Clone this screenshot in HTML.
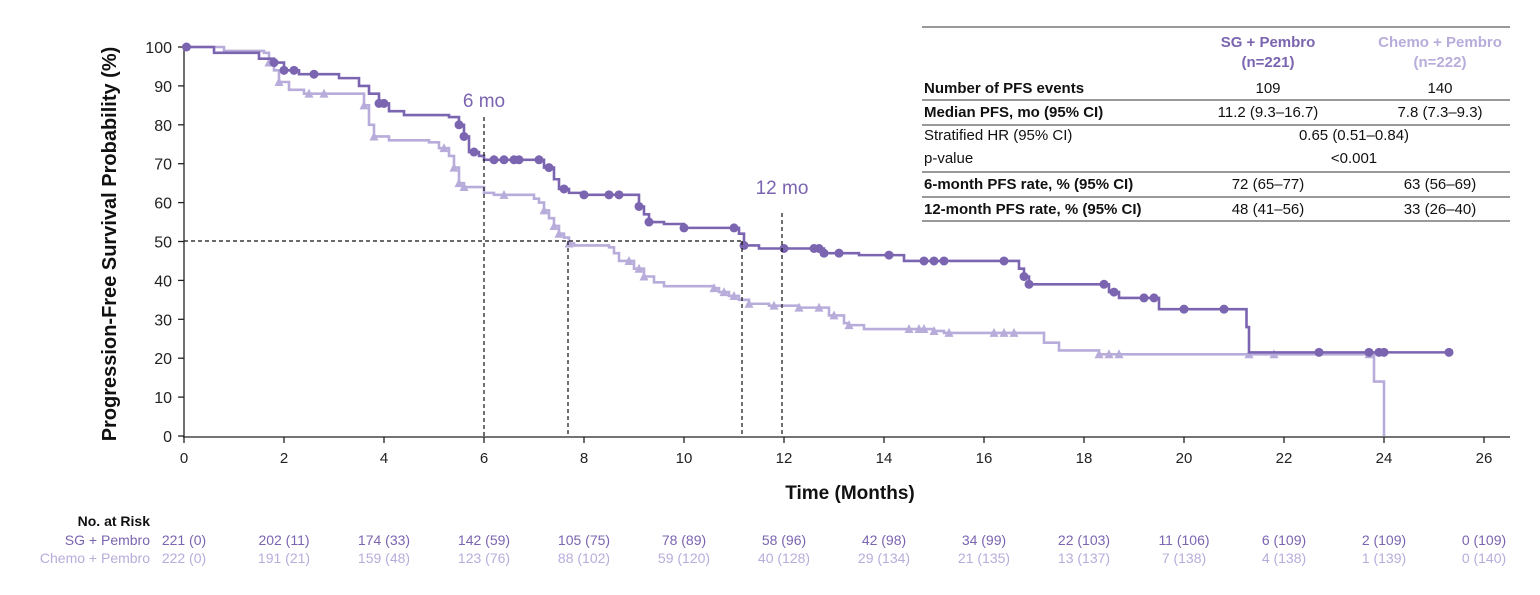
<!DOCTYPE html>
<html><head><meta charset="utf-8"><style>
html,body{margin:0;padding:0;background:#fff;}
svg{display:block;font-family:"Liberation Sans",sans-serif;}
</style></head><body>
<svg id="s" width="1540" height="595" xmlns="http://www.w3.org/2000/svg">
<g id="axes" stroke="#222" stroke-width="1.3" fill="none">
<line x1="184" y1="44" x2="184" y2="437"/>
<line x1="183" y1="437" x2="1510" y2="437"/>
</g>
<g id="ticks"></g>
<g id="curves"></g>
<text x="116" y="244" transform="rotate(-90 116 244)" text-anchor="middle" font-size="20" font-weight="bold" fill="#111">Progression-Free Survival Probability (%)</text>
<text x="850" y="499" text-anchor="middle" font-size="19" font-weight="bold" fill="#111">Time (Months)</text>
<g stroke="#111" stroke-width="1.2" stroke-dasharray="4,3" fill="none">
<line x1="184" y1="241" x2="742" y2="241"/>
<line x1="484" y1="117" x2="484" y2="437"/>
<line x1="568" y1="241" x2="568" y2="437"/>
<line x1="742" y1="241" x2="742" y2="437"/>
<line x1="782" y1="213" x2="782" y2="437"/>
</g>
<text x="484" y="107" text-anchor="middle" font-size="19" fill="#7b64b0">6 mo</text>
<text x="782" y="194" text-anchor="middle" font-size="19" fill="#7b64b0">12 mo</text>
<g font-size="15" fill="#111">
<line x1="922" y1="27" x2="1510" y2="27" stroke="#333" stroke-width="1"/>
<line x1="922" y1="100" x2="1510" y2="100" stroke="#333" stroke-width="1"/>
<line x1="922" y1="125" x2="1510" y2="125" stroke="#333" stroke-width="1"/>
<line x1="922" y1="172" x2="1510" y2="172" stroke="#333" stroke-width="1"/>
<line x1="922" y1="197" x2="1510" y2="197" stroke="#333" stroke-width="1"/>
<line x1="922" y1="221" x2="1510" y2="221" stroke="#333" stroke-width="1"/>
<text x="1268" y="47" text-anchor="middle" font-weight="bold" fill="#7b64b0">SG + Pembro</text>
<text x="1268" y="67" text-anchor="middle" font-weight="bold" fill="#7b64b0">(n=221)</text>
<text x="1440" y="47" text-anchor="middle" font-weight="bold" fill="#b8acdb">Chemo + Pembro</text>
<text x="1440" y="67" text-anchor="middle" font-weight="bold" fill="#b8acdb">(n=222)</text>
<text x="924" y="93" font-weight="bold">Number of PFS events</text>
<text x="1268" y="93" text-anchor="middle">109</text>
<text x="1440" y="93" text-anchor="middle">140</text>
<text x="924" y="117" font-weight="bold">Median PFS, mo (95% CI)</text>
<text x="1268" y="117" text-anchor="middle">11.2 (9.3–16.7)</text>
<text x="1440" y="117" text-anchor="middle">7.8 (7.3–9.3)</text>
<text x="924" y="140">Stratified HR (95% CI)</text>
<text x="1354" y="140" text-anchor="middle">0.65 (0.51–0.84)</text>
<text x="924" y="163">p-value</text>
<text x="1354" y="163" text-anchor="middle">&lt;0.001</text>
<text x="924" y="189" font-weight="bold">6-month PFS rate, % (95% CI)</text>
<text x="1268" y="189" text-anchor="middle">72 (65–77)</text>
<text x="1440" y="189" text-anchor="middle">63 (56–69)</text>
<text x="924" y="214" font-weight="bold">12-month PFS rate, % (95% CI)</text>
<text x="1268" y="214" text-anchor="middle">48 (41–56)</text>
<text x="1440" y="214" text-anchor="middle">33 (26–40)</text>
</g>
<g font-size="14">
<text x="150" y="526" text-anchor="end" font-weight="bold" fill="#111">No. at Risk</text>
<text x="150" y="545" text-anchor="end" fill="#7b64b0">SG + Pembro</text>
<text x="150" y="563" text-anchor="end" fill="#b8acdb">Chemo + Pembro</text>
<g id="risk"></g>
</g>
</svg>
<script>
var NS="http://www.w3.org/2000/svg";
function X(m){return 184+m*50;}
function Y(v){return 436-v*3.89;}
function el(p,t,a,txt){var e=document.createElementNS(NS,t);for(var k in a)e.setAttribute(k,a[k]);if(txt!==undefined)e.textContent=txt;p.appendChild(e);return e;}
var tk=document.getElementById('ticks');
for(var v=0;v<=100;v+=10){el(tk,'line',{x1:178,x2:184,y1:Y(v),y2:Y(v),stroke:'#222','stroke-width':1.3});
el(tk,'text',{x:172,y:Y(v)+6,'text-anchor':'end','font-size':16,fill:'#222'},v);}
for(var m=0;m<=26;m+=2){el(tk,'line',{x1:X(m),x2:X(m),y1:437,y2:443,stroke:'#222','stroke-width':1.3});
el(tk,'text',{x:X(m),y:463,'text-anchor':'middle','font-size':15,fill:'#222'},m);}
var sg=[[0,100],[0.6,98.5],[1.4,98.5],[1.5,97],[1.8,96],[2.0,94],[2.3,93],[2.9,93],[3.1,92],[3.5,90],[3.7,88],[3.9,85.5],[4.1,83.5],[4.4,82.5],[5.3,82],[5.5,80],[5.6,77],[5.7,73],[5.9,72],[6.0,71],[7.0,71],[7.2,69],[7.4,66],[7.5,63.5],[7.7,62.5],[8.0,62],[8.9,62],[9.1,59],[9.2,57],[9.3,55],[9.6,54.5],[10.0,53.5],[10.9,53.5],[11.1,52],[11.2,49],[11.5,48.2],[12.5,48.2],[12.8,47],[13.5,46.5],[14.3,46.5],[14.4,45],[16.6,45],[16.7,43],[16.8,41],[16.9,39],[18.4,39],[18.5,37],[18.7,35.5],[19.4,35.5],[19.5,32.6],[21.2,32.6],[21.25,28],[21.3,21.5],[25.3,21.5]];
var ch=[[0,100],[0.8,99],[1.6,98.5],[1.7,96],[1.8,94],[1.9,91],[2.1,89],[2.4,88],[3.5,88],[3.6,85],[3.7,80],[3.8,77],[4.1,76],[4.9,75.5],[5.1,74],[5.3,72],[5.4,69],[5.5,65],[5.6,64],[5.9,64],[6.0,62.5],[6.2,62],[7.0,61],[7.1,60],[7.2,58],[7.3,56],[7.4,54],[7.5,52],[7.6,51],[7.7,49.5],[7.8,49],[8.5,48.5],[8.6,47],[8.7,45],[9.0,43],[9.2,41],[9.4,39.5],[9.6,38.5],[10.6,38],[10.7,37],[10.9,36],[11.1,35],[11.3,34],[11.7,33.5],[12.3,33],[12.7,33],[12.9,31],[13.2,29],[13.3,28.5],[13.6,27.5],[15.0,27],[15.2,26.5],[16.6,26.5],[17.2,24],[17.5,22],[18.3,21],[23.7,21],[23.8,14],[24.0,14],[24.0,0]];
function path(d){var s='M'+X(d[0][0])+','+Y(d[0][1]);for(var i=1;i<d.length;i++){s+=' H'+X(d[i][0])+' V'+Y(d[i][1]);}return s;}
function valAt(d,m){var v=d[0][1];for(var i=0;i<d.length;i++){if(d[i][0]<=m)v=d[i][1];}return v;}
var cg=document.getElementById('curves');
var CL='#b8acdb',CD='#7b64b0';
el(cg,'path',{d:path(ch),fill:'none',stroke:CL,'stroke-width':2.6});
var chm=[1.7,1.9,2.5,2.8,3.6,3.8,5.2,5.4,5.5,5.6,6.4,7.2,7.4,7.5,7.7,8.9,9.1,9.2,10.6,10.8,11.0,11.3,11.8,12.3,12.7,13.0,13.3,14.5,14.7,14.8,15.0,15.3,16.2,16.4,16.6,18.3,18.5,18.7,21.3,21.8,23.7];
chm.forEach(function(m){var x=X(m),y=Y(valAt(ch,m));el(cg,'polygon',{points:(x-4.5)+','+(y+4)+' '+(x+4.5)+','+(y+4)+' '+x+','+(y-5),fill:CL});});
el(cg,'path',{d:path(sg),fill:'none',stroke:CD,'stroke-width':2.6});
var sgm=[0.05,1.8,2.0,2.2,2.6,3.9,4.0,5.5,5.6,5.8,6.2,6.4,6.6,6.7,7.1,7.3,7.6,8.0,8.5,8.7,9.1,9.3,10.0,11.0,11.2,12.0,12.6,12.7,12.8,13.1,14.1,14.8,15.0,15.2,16.4,16.8,16.9,18.4,18.6,19.2,19.4,20.0,20.8,22.7,23.7,23.9,24.0,25.3];
sgm.forEach(function(m){el(cg,'circle',{cx:X(m),cy:Y(valAt(sg,m)),r:4.5,fill:CD});});
var r1=["221 (0)","202 (11)","174 (33)","142 (59)","105 (75)","78 (89)","58 (96)","42 (98)","34 (99)","22 (103)","11 (106)","6 (109)","2 (109)","0 (109)"];
var r2=["222 (0)","191 (21)","159 (48)","123 (76)","88 (102)","59 (120)","40 (128)","29 (134)","21 (135)","13 (137)","7 (138)","4 (138)","1 (139)","0 (140)"];
var rk=document.getElementById('risk');
for(var i=0;i<14;i++){el(rk,'text',{x:X(i*2),y:545,'text-anchor':'middle',fill:CD},r1[i]);el(rk,'text',{x:X(i*2),y:563,'text-anchor':'middle',fill:CL},r2[i]);}
</script>
</body></html>
